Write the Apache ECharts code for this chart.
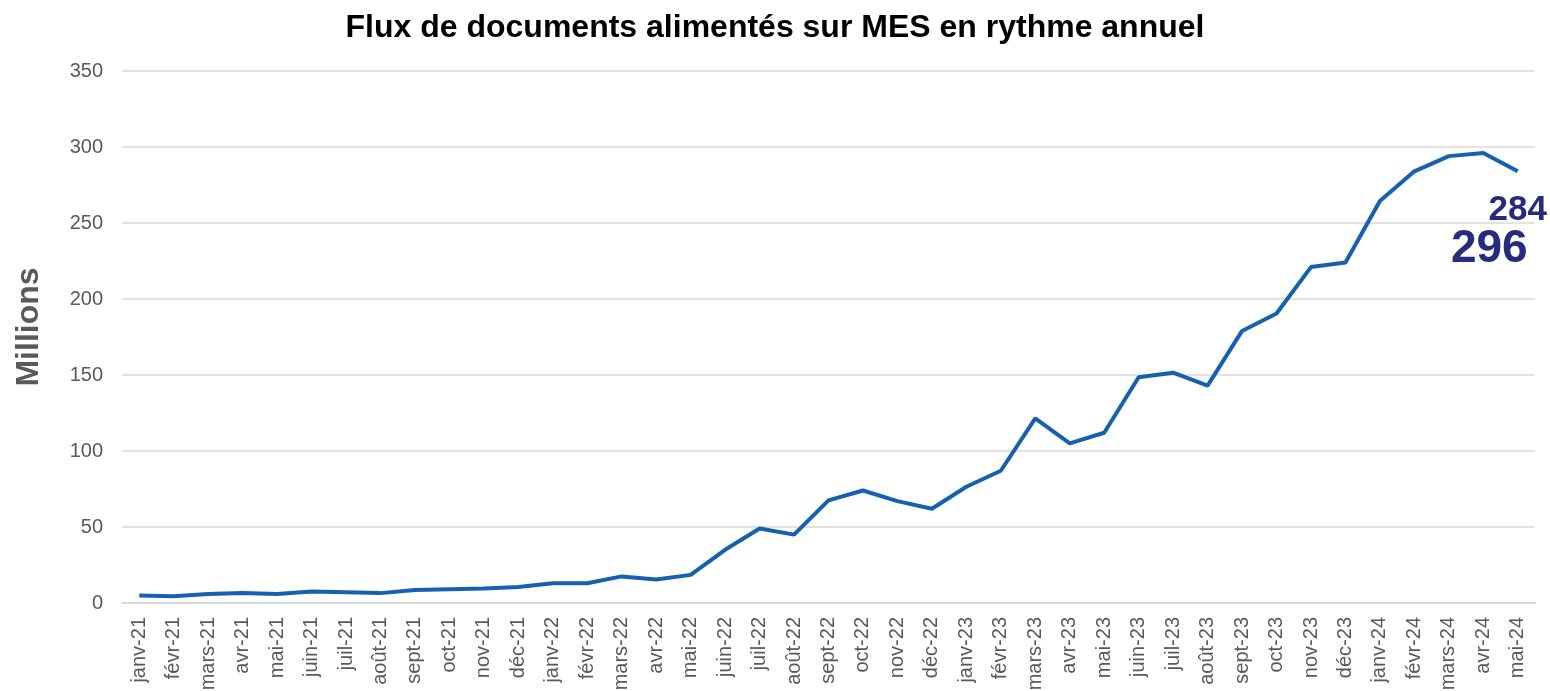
<!DOCTYPE html>
<html>
<head>
<meta charset="utf-8">
<script src="https://cdn.jsdelivr.net/npm/echarts@6/dist/echarts.min.js"></script>
<style>
  html, body { margin: 0; padding: 0; background: #fff; }
  #chart { width: 1550px; height: 691px; }
</style>
</head>
<body>
<div id="chart"></div>
<script>
// months, janv-21 .. mai-24
const months = [
  'janv-21', 'févr-21', 'mars-21', 'avr-21', 'mai-21', 'juin-21', 'juil-21', 'août-21', 'sept-21', 'oct-21', 'nov-21', 'déc-21',
  'janv-22', 'févr-22', 'mars-22', 'avr-22', 'mai-22', 'juin-22', 'juil-22', 'août-22', 'sept-22', 'oct-22', 'nov-22', 'déc-22',
  'janv-23', 'févr-23', 'mars-23', 'avr-23', 'mai-23', 'juin-23', 'juil-23', 'août-23', 'sept-23', 'oct-23', 'nov-23', 'déc-23',
  'janv-24', 'févr-24', 'mars-24', 'avr-24', 'mai-24'
];

// documents, millions, annual rhythm
const flux = [
  5, 4.5, 6, 6.5, 6, 7.5, 7, 6.5, 8.5, 9, 9.5, 10.5,
  13, 13, 17.5, 15.5, 18.5, 35, 49, 45, 67.5, 74, 67, 62,
  76.5, 87, 121.5, 105, 112, 148.5, 151.5, 143, 179, 190.5, 221, 224,
  264.5, 284, 294, 296, 284
];

const yTicks = [0, 50, 100, 150, 200, 250, 300, 350];

const titleText = 'Flux de documents alimentés sur MES en rythme annuel';
const labelColor = '#262B7E';

const chart = echarts.init(document.getElementById('chart'));

const lastIdx = flux.length - 1;
const maxIdx = flux.indexOf(Math.max(...flux));

const option = {
  animation: false,
  backgroundColor: '#ffffff',
  title: {
    text: titleText,
    left: 'center',
    top: 7,
    textStyle: {
      fontFamily: 'Liberation Sans, Arial, sans-serif',
      fontWeight: 'bold',
      fontSize: 32,
      color: '#000000'
    }
  },
  grid: { left: 122, right: 15, top: 71, bottom: 88, outerBoundsMode: 'none' },
  xAxis: {
    type: 'category',
    data: months,
    boundaryGap: true,
    axisTick: { show: false },
    axisLine: { lineStyle: { color: '#d9d9d9', width: 2 } },
    axisLabel: {
      rotate: 90,
      interval: 0,
      margin: 14,
      fontFamily: 'Liberation Sans, Arial, sans-serif',
      fontSize: 20,
      color: '#595959'
    }
  },
  yAxis: {
    type: 'value',
    min: yTicks[0],
    max: yTicks[yTicks.length - 1],
    interval: 50,
    axisLine: { show: false },
    axisTick: { show: false },
    splitLine: { lineStyle: { color: '#d9d9d9', width: 1.5 } },
    axisLabel: {
      margin: 19,
      fontFamily: 'Liberation Sans, Arial, sans-serif',
      fontSize: 20,
      color: '#595959'
    }
  },
  graphic: [{
    type: 'text',
    x: 29,
    y: 327,
    rotation: Math.PI / 2,
    style: {
      text: 'Millions',
      fontFamily: 'Liberation Sans, Arial, sans-serif',
      fontWeight: 'bold',
      fontSize: 32,
      fill: '#595959',
      textAlign: 'center',
      textVerticalAlign: 'middle'
    }
  }],
  series: [{
    type: 'line',
    data: flux,
    symbol: 'none',
    lineStyle: { color: '#1561B0', width: 4 },
    markPoint: {
      symbol: 'circle',
      symbolSize: 0,
      data: [
        {
          coord: [lastIdx, flux[lastIdx]],
          value: flux[lastIdx],
          label: {
            show: true,
            position: 'inside',
            offset: [0, 39],
            formatter: String(Math.round(flux[lastIdx])),
            fontFamily: 'Liberation Sans, Arial, sans-serif',
            fontWeight: 'bold',
            fontSize: 35,
            color: labelColor
          }
        },
        {
          coord: [maxIdx, flux[maxIdx]],
          value: flux[maxIdx],
          label: {
            show: true,
            position: 'inside',
            offset: [6, 96],
            formatter: String(Math.round(flux[maxIdx])),
            fontFamily: 'Liberation Sans, Arial, sans-serif',
            fontWeight: 'bold',
            fontSize: 46,
            color: labelColor
          }
        }
      ]
    }
  }]
};

chart.setOption(option);
</script>
</body>
</html>
